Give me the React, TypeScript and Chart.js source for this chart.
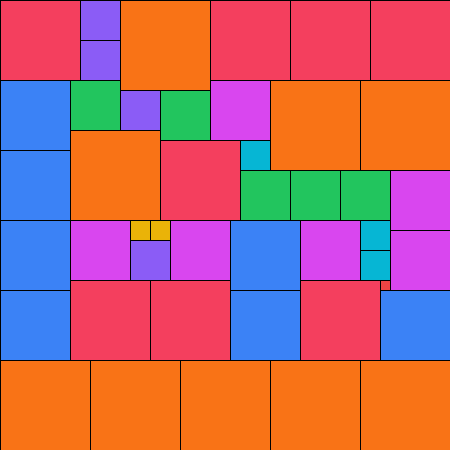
import React, { useEffect, useRef } from 'react';
import { Chart, BarController, registerables } from 'chart.js';

// Partridge tiling: n squares of side n (n = 1..9) packing a 45 x 45 grid.
const gridSize = 45;
const sides = [9, 8, 7, 6, 5, 4, 3, 2, 1];

// top-left corners [x, y] of each square, in grid units
const squares9 = [[12, 0], [27, 8], [36, 8], [7, 13], [0, 36], [9, 36], [18, 36], [27, 36], [36, 36]];
const squares8 = [[0, 0], [21, 0], [29, 0], [37, 0], [16, 14], [7, 28], [15, 28], [30, 28]];
const squares7 = [[0, 8], [0, 15], [0, 22], [23, 22], [0, 29], [23, 29], [38, 29]];
const squares6 = [[21, 8], [39, 17], [7, 22], [17, 22], [30, 22], [39, 23]];
const squares5 = [[7, 8], [16, 9], [24, 17], [29, 17], [34, 17]];
const squares4 = [[8, 0], [8, 4], [12, 9], [13, 24]];
const squares3 = [[24, 14], [36, 22], [36, 25]];
const squares2 = [[13, 22], [15, 22]];
const squares1 = [[38, 28]];

const positions = [squares9, squares8, squares7, squares6, squares5, squares4, squares3, squares2, squares1];
const colors = ['#f97316', '#f43f5e', '#3b82f6', '#d946ef', '#22c55e', '#8b5cf6', '#06b6d4', '#eab308', '#ef4444'];

class SquareController extends BarController {
  static id = 'square';
  static defaults = { ...(BarController as any).defaults };
  static overrides = { scales: { x: { type: 'linear' }, y: { type: 'linear' } } };

  updateElements(elements: any[], start: number, count: number, mode: any) {
    const self: any = this;
    const meta = self._cachedMeta;
    const xScale = meta.xScale;
    const yScale = meta.yScale;
    const side = self.getDataset().side;
    for (let i = start; i < start + count; i++) {
      const p = self.getParsed(i);
      const left = xScale.getPixelForValue(p.x);
      const right = xScale.getPixelForValue(p.x + side);
      const top = yScale.getPixelForValue(p.y);
      const bottom = yScale.getPixelForValue(p.y + side);
      const properties: any = {
        horizontal: false,
        x: (left + right) / 2,
        width: Math.abs(right - left),
        y: Math.min(top, bottom),
        base: Math.max(top, bottom),
        height: Math.abs(bottom - top),
        borderSkipped: {},
        inflateAmount: 0,
        options: self.resolveDataElementOptions(i, mode),
      };
      self.updateElement(elements[i], i, properties, mode);
    }
  }
}

Chart.register(...registerables, SquareController as any);

export default function App() {
  const ref = useRef<HTMLCanvasElement | null>(null);

  useEffect(() => {
    document.body.style.margin = '0';
    if (!ref.current) return;
    const datasets = sides.map((side, k) => ({
      label: `${side}×${side}`,
      side,
      data: positions[k].map(([x, y]) => ({ x, y })),
      backgroundColor: colors[k],
      borderColor: '#000000',
      borderWidth: { top: 1, left: 1, right: 0, bottom: 0 },
      borderSkipped: false,
      inflateAmount: 0,
    }));
    const chart = new Chart(ref.current, {
      type: 'square' as any,
      data: { datasets } as any,
      options: {
        animation: false,
        responsive: true,
        maintainAspectRatio: false,
        events: [],
        layout: { padding: 0 },
        plugins: { legend: { display: false }, tooltip: { enabled: false } },
        scales: {
          x: { type: 'linear', min: 0, max: gridSize, offset: false, display: false },
          y: { type: 'linear', min: 0, max: gridSize, reverse: true, offset: false, display: false },
        },
      } as any,
    });
    return () => chart.destroy();
  }, []);

  return (
    <div style={{ position: 'relative', width: 450, height: 450 }}>
      <canvas ref={ref} />
    </div>
  );
}
